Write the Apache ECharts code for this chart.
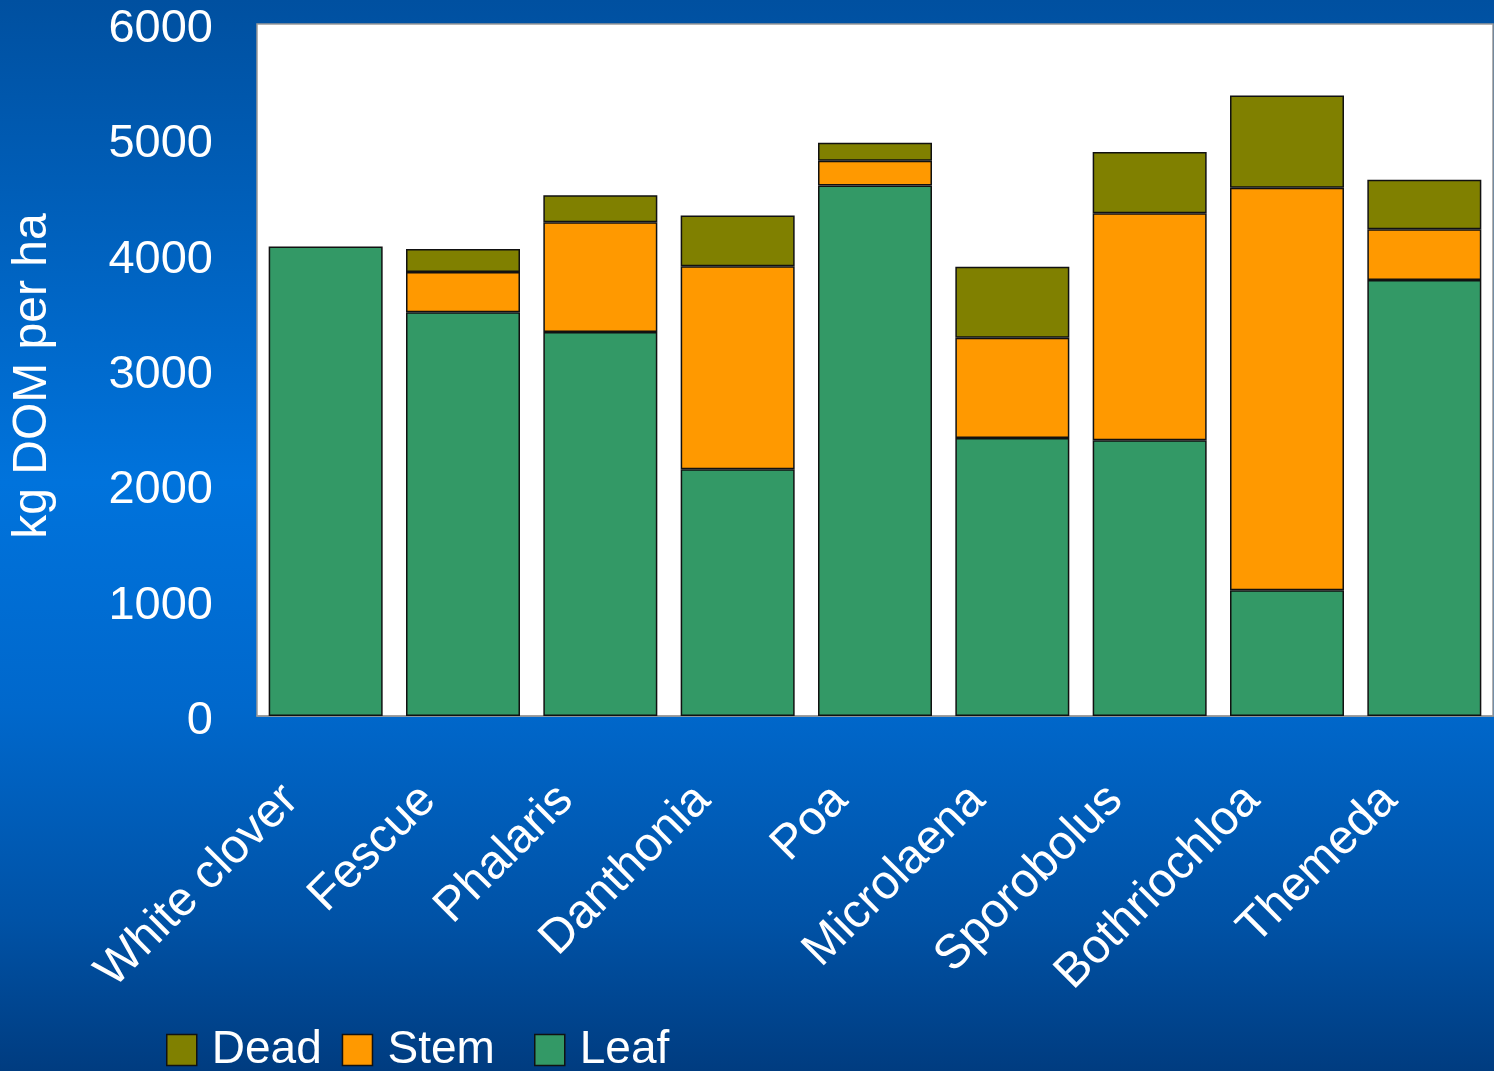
<!DOCTYPE html>
<html>
<head>
<meta charset="utf-8">
<script src="https://cdn.jsdelivr.net/npm/echarts@6/dist/echarts.min.js"></script>
<style>
html,body{margin:0;padding:0;width:1494px;height:1071px;overflow:hidden;}
#c{width:1494px;height:1071px;}
</style>
</head>
<body>
<div id="c"></div>
<script>
const categories = ['White clover','Fescue','Phalaris','Danthonia','Poa','Microlaena','Sporobolus','Bothriochloa','Themeda'];
const leaf = [4070, 3500, 3330, 2140, 4600, 2410, 2390, 1090, 3780];
const stem = [0, 350, 950, 1760, 215, 870, 1970, 3490, 440];
const dead = [0, 200, 235, 440, 155, 615, 530, 800, 430];
const yTicks = [0, 1000, 2000, 3000, 4000, 5000, 6000];

const FONT = '"Liberation Sans", Arial, sans-serif';
const chart = echarts.init(document.getElementById('c'));
const nz = a => a.map(v => v === 0 ? '-' : v);
const barStyle = c => ({color: c, borderColor: '#111', borderWidth: 1.5});

chart.setOption({
  backgroundColor: {
    type: 'linear', x: 0, y: 0, x2: 0, y2: 1,
    colorStops: [
      {offset: 0, color: '#0050a0'},
      {offset: 0.45, color: '#0073dc'},
      {offset: 0.66, color: '#0068cc'},
      {offset: 0.86, color: '#0052a6'},
      {offset: 1, color: '#003c80'}
    ]
  },
  animation: false,
  textStyle: {fontFamily: FONT},
  grid: {
    left: 257, top: 24, right: 1, bottom: 355,
    show: true, backgroundColor: '#ffffff', borderColor: '#999999', borderWidth: 1.5
  },
  legend: [{
    data: ['Dead', 'Stem'],
    left: 166, top: 1027, padding: 0,
    itemWidth: 30, itemHeight: 31, itemGap: 20,
    icon: 'rect',
    itemStyle: {borderColor: '#111', borderWidth: 1.5},
    textStyle: {color: '#fff', fontSize: 46, fontFamily: FONT, padding: [0, 0, 0, 10]}
  }, {
    data: ['Leaf'],
    left: 534, top: 1027, padding: 0,
    itemWidth: 30, itemHeight: 31,
    icon: 'rect',
    itemStyle: {borderColor: '#111', borderWidth: 1.5},
    textStyle: {color: '#fff', fontSize: 46, fontFamily: FONT, padding: [0, 0, 0, 10]}
  }],
  xAxis: {
    type: 'category',
    data: categories,
    axisLine: {show: true, lineStyle: {color: '#999', width: 1.5}},
    axisTick: {show: false},
    axisLabel: {
      color: '#fff', fontSize: 48, fontFamily: FONT, rotate: 45,
      interval: 0, margin: 42, padding: [0, 49, 0, 0]
    }
  },
  yAxis: {
    type: 'value',
    min: yTicks[0], max: yTicks[yTicks.length - 1], interval: 1000,
    name: 'kg DOM per ha',
    nameLocation: 'middle',
    nameGap: 200,
    nameTextStyle: {color: '#fff', fontSize: 48, fontFamily: FONT, padding: [0, 12, 0, 0]},
    axisLine: {show: false},
    axisTick: {show: false},
    splitLine: {show: false},
    axisLabel: {
      color: '#fff', fontSize: 47, fontFamily: FONT, margin: 44,
      formatter: v => '{t|' + v + '}',
      rich: {t: {color: '#fff', fontSize: 47, fontFamily: FONT, padding: [10, 0, 0, 0]}}
    }
  },
  series: [
    {name: 'Leaf', type: 'bar', stack: 's', data: nz(leaf), barCategoryGap: '17%', itemStyle: barStyle('#339966')},
    {name: 'Stem', type: 'bar', stack: 's', data: nz(stem), itemStyle: barStyle('#ff9900')},
    {name: 'Dead', type: 'bar', stack: 's', data: nz(dead), itemStyle: barStyle('#808000')}
  ]
});
</script>
</body>
</html>
